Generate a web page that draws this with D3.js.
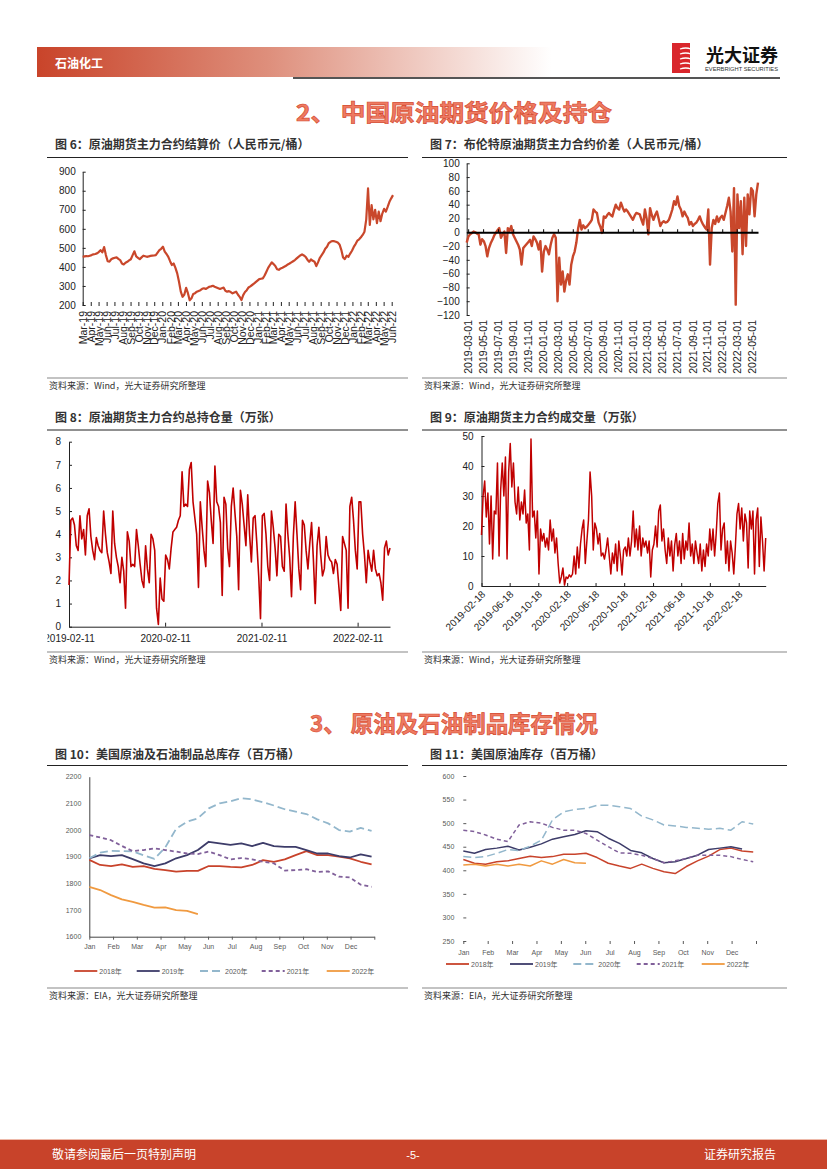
<!DOCTYPE html>
<meta charset="utf-8">
<head>
<title>石油化工：中国原油期货价格及持仓、原油及石油制品库存</title>
<script src="https://d3js.org/d3.v7.min.js"></script>
<style>
  body { margin: 0; background: #fff; }
  svg { display: block; }
</style>
</head>
<body>
<svg width="827" height="1169"></svg>
<script>

// ---------- data ----------

// 图6 原油期货主力合约结算价（元/桶），约每周一个读数
var price6Start = "2019-03-01", price6End = "2022-06-06";
var price6 = [
  453, 455, 457, 456, 459, 462, 466, 468, 471, 478,
  488, 476, 504, 462, 430, 428, 440, 445, 448, 450,
  442, 436, 418, 413, 422, 427, 434, 440, 462, 482,
  455, 448, 441, 450, 459, 456, 453, 455, 458, 459,
  460, 462, 475, 488, 495, 506, 480, 468, 453, 430,
  410, 418, 395, 366, 322, 270, 243, 255, 290, 262,
  225, 235, 258, 262, 270, 274, 278, 285, 288, 284,
  290, 296, 298, 301, 296, 292, 288, 284, 288, 291,
  275, 270, 273, 268, 261, 266, 270, 255, 243, 226,
  252, 268, 278, 292, 298, 305, 312, 320, 328, 336,
  338, 340, 355, 375, 395, 410, 424, 415, 405, 388,
  385, 392, 396, 401, 406, 413, 418, 424, 430, 436,
  445, 453, 460, 466, 460, 453, 438, 427, 440, 432,
  427, 404, 425, 448, 462, 476, 495, 506, 525, 532,
  536, 535, 532, 528, 518, 490, 450, 441, 459, 453,
  470, 485, 505, 520, 538, 545, 556, 568, 585, 650,
  812, 620, 725, 650, 700, 630, 690, 640, 680, 705,
  690, 715, 742, 760, 777
];
var ticks6 = [200, 300, 400, 500, 600, 700, 800, 900];

// 图7 布伦特原油期货主力合约价差（元/桶）
var spread7Start = "2019-02-23", spread7End = "2022-05-27";
var spread7 = [
  -15, -6, -3, -1, 1, 0, -2, -3, -18, -10,
  -13, -20, -35, -23, -16, -11, -5, -1, 3, 6,
  -8, -3, 1, -30, 6, 2, 9, -3, -8, -13,
  -18, -25, -47, -23, -20, -17, -14, -11, -20, -6,
  -10, -15, -25, -13, -57, -28, -20, -25, -32, -18,
  -8, -3, -8, -100, -37, -76, -57, -86, -70, -61,
  -76, -47, -35, -28, -15, 5, 18, 4, 10, 6,
  8, 11, 14, 18, 33, 30, 28, 14, 8, -1,
  23, 21, 25, 28, 25, 23, 32, 40, 35, 33,
  43, 36, 30, 33, 30, 26, 22, 18, 24, 28,
  27, 26, 18, 11, 33, 20, -3, 35, 25, 18,
  25, 30, 20, 9, 14, 16, 14, 15, 18, 25,
  33, 45, 40, 52, 38, 33, 23, 30, 25, 21,
  11, 15, 9, 12, 14, 18, 23, 16, 11, 7,
  4, 33, -47, 6, 18, 12, 23, 15, 21, 24,
  18, 28, 38, 50, 30, -28, 64, -105, 55, 6,
  45, -32, 50, -20, 55, 26, 64, 60, 23, 55,
  72
];
var ticks7 = [-120, -100, -80, -60, -40, -20, 0, 20, 40, 60, 80, 100];

// 图8 原油期货主力合约总持仓量（万张）
var oi8Start = "2019-02-11", oi8End = "2022-06-14";
var oi8 = [
  1.8, 4.6, 4.7, 4.4, 3.5, 3.3, 4.8, 3.8, 4.2, 3.1,
  4.8, 5.1, 3.9, 3.3, 2.9, 3.85, 3.5, 3.3, 3.2, 5.0,
  4.0, 3.2, 2.8, 2.3, 5.0, 3.6, 3.0, 2.6, 1.9, 3.0,
  2.4, 0.8, 4.1, 3.7, 2.6, 2.7, 2.6, 4.2, 3.5, 2.7,
  2.0, 1.7, 3.5, 2.5, 1.9, 4.0, 3.8, 3.3, 0.8, 0.1,
  2.1, 1.2, 1.1, 3.1, 2.9, 2.5, 3.4, 4.1, 4.2, 4.3,
  4.6, 4.8, 6.7, 5.2, 5.3, 5.2, 6.8, 7.1, 5.4, 4.7,
  4.0, 1.7, 5.4, 4.3, 3.3, 2.6, 6.3, 5.8, 4.6, 3.6,
  6.95, 5.4, 5.2, 4.5, 1.35, 5.6, 5.3, 3.4, 2.6, 5.2,
  6.0, 4.9, 3.9, 1.6, 5.9, 5.3, 4.4, 3.5, 5.7, 4.0,
  2.8, 4.7, 4.8, 3.6, 2.2, 0.35, 4.8, 4.9, 4.0, 2.6,
  2.0, 5.0, 4.3, 3.4, 2.2, 4.0, 3.9, 2.6, 2.4, 5.3,
  4.0, 3.0, 1.3, 3.9, 5.4, 4.0, 2.5, 1.6, 4.6, 4.4,
  3.3, 2.5, 3.6, 4.5, 2.9, 1.0, 3.5, 4.3, 3.1, 2.2,
  2.5, 3.9, 3.1, 2.9, 2.8, 2.3, 2.9, 2.7, 1.7, 0.7,
  3.9, 3.6, 3.3, 0.8, 5.2, 5.6, 4.6, 3.3, 2.5, 5.4,
  5.4, 4.0, 3.1, 1.9, 3.3, 2.8, 2.4, 3.3, 2.5, 2.2,
  2.3, 1.9, 1.15, 3.4, 3.7, 3.1, 3.4
];
var ticks8 = [0, 1, 2, 3, 4, 5, 6, 7, 8];
var dates8 = ["2019-02-11", "2020-02-11", "2021-02-11", "2022-02-11"];

// 图9 原油期货主力合约成交量（万张）
var vol9Start = "2019-02-18", vol9End = "2022-06-13";
var vol9 = [
  17, 30, 35, 23, 31, 14, 30, 9, 25, 24,
  41, 10, 32, 41, 30, 43, 9, 38, 47.5, 33, 41,
  28, 24, 33, 22, 28, 24, 32, 21, 24, 12,
  49, 23, 25, 16, 25, 4, 19, 15, 17.5, 13,
  16, 12, 22, 15, 19, 11, 16, 7.5, 1, 3, 6,
  0.3, 3, 2.5, 3.7, 3, 4, 10, 4, 13, 6,
  14, 19, 22, 7.5, 15, 22, 38, 30, 12, 21, 19,
  14, 17.5, 10, 11, 9, 12, 16, 10, 4, 11,
  7.5, 14, 5, 15, 10, 3.7, 12, 13, 10, 16,
  10, 15, 25, 13, 19, 12, 20, 10, 16, 13,
  15, 11, 15, 3, 12, 14, 20, 13, 25, 27,
  15, 19, 12, 7.5, 16, 10, 15, 5, 13.7, 17.5,
  10, 15, 7.5, 17.5, 9, 15, 12, 21, 10, 14,
  7.5, 15, 11, 7.5, 14, 5, 12, 6.5, 14, 10,
  19, 12, 19, 10, 17.5, 27.5, 31, 12, 19, 21, 7.5,
  15, 5, 15, 11, 4, 13, 24, 27.5, 19, 26,
  15, 24, 21, 6, 25, 19, 25, 4, 22, 26,
  6.5, 23, 15, 5, 16
];
var ticks9 = [0, 10, 20, 30, 40, 50];
var dates9 = ["2019-02-18", "2019-06-18", "2019-10-18", "2020-02-18", "2020-06-18",
              "2020-10-18", "2021-02-18", "2021-06-18", "2021-10-18", "2022-02-18"];

// 年内周序列（每两周一个读数，从第0周起）
var months = ["Jan", "Feb", "Mar", "Apr", "May", "Jun", "Jul", "Aug", "Sep", "Oct", "Nov", "Dec"];
var years = ["2018年", "2019年", "2020年", "2021年", "2022年"];

// 图10 美国原油及石油制品总库存（百万桶）
var total2018 = [1888, 1869, 1865, 1871, 1862, 1865, 1854, 1850, 1844, 1847, 1847, 1865, 1865, 1862,
                 1860, 1869, 1887, 1881, 1890, 1906, 1921, 1906, 1906, 1900, 1894, 1881, 1871];
var total2019 = [1894, 1906, 1902, 1906, 1891, 1875, 1865, 1875, 1894, 1906, 1925, 1956, 1950, 1944,
                 1950, 1940, 1952, 1940, 1937, 1937, 1925, 1912, 1912, 1902, 1897, 1909, 1900];
var total2020 = [1894, 1915, 1922, 1921, 1920, 1905, 1892, 1935, 2005, 2031, 2044, 2081, 2100, 2108,
                 2119, 2115, 2104, 2092, 2078, 2069, 2060, 2040, 2025, 2000, 1994, 2008, 1997];
var total2021 = [1981, 1972, 1962, 1940, 1921, 1925, 1931, 1925, 1919, 1912, 1910, 1919, 1906, 1890,
                 1895, 1890, 1881, 1875, 1848, 1850, 1853, 1843, 1845, 1825, 1822, 1795, 1787];
var total2022 = [1787, 1775, 1756, 1740, 1731, 1719, 1709, 1710, 1700, 1697, 1685];
var ticks10 = [1600, 1700, 1800, 1900, 2000, 2100, 2200];

// 图11 美国原油库存（百万桶）
var crude2018 = [423, 415, 413, 418, 420, 425, 430, 427, 429, 434, 434, 436, 427, 415,
                 409, 404, 413, 404, 397, 393, 408, 420, 430, 444, 447, 441, 439];
var crude2019 = [441, 436, 444, 447, 451, 443, 449, 456, 466, 471, 476, 484, 482, 468,
                 457, 442, 437, 425, 416, 418, 425, 432, 444, 447, 450, 445];
var crude2020 = [429, 427, 429, 436, 444, 442, 451, 464, 507, 524, 529, 531, 538, 538,
                 535, 531, 515, 507, 496, 494, 491, 489, 487, 489, 485, 503, 498];
var crude2021 = [485, 482, 475, 466, 461, 496, 503, 500, 491, 485, 485, 478, 464, 450,
                 437, 436, 432, 425, 416, 420, 425, 432, 432, 432, 429, 423, 418];
var crude2022 = [411, 413, 409, 413, 409, 413, 409, 420, 413, 423, 416, 415];
var ticks11 = [250, 300, 350, 400, 450, 500, 550, 600];

// ---------- drawing ----------

var svg = d3.select("svg");
var FONT = "'Liberation Sans', Arial, 'Noto Sans CJK SC', sans-serif";
var CJK = "'Noto Sans CJK SC', 'Liberation Sans', sans-serif";
var RED = "#c9472b", DARKRED = "#c00000";
var yearColors = ["#c8432b", "#3d3c69", "#93b7cc", "#80609a", "#f09a40"];
var yearDash = [null, null, "8,4", "4,3", null];
var parse = d3.timeParse("%Y-%m-%d");

// spread readings evenly between two dates
function spread(values, start, end) {
  var t0 = parse(start).getTime(), t1 = parse(end).getTime();
  return values.map(function (v, i) {
    return { date: new Date(t0 + (t1 - t0) * i / (values.length - 1)), value: v };
  });
}

function styleAxis(g, size, color) {
  g.attr("font-family", FONT).attr("font-size", size);
  g.selectAll("text").attr("fill", color);
  g.selectAll("line").attr("stroke", color);
  g.select(".domain").attr("stroke", color);
}

function frame(x0, x1, titleY, title, ruleY, srcY, source) {
  svg.append("text").attr("x", x0 + 8).attr("y", titleY)
    .attr("font-family", CJK).attr("font-weight", "bold").attr("font-size", 12)
    .attr("fill", "#333").text(title);
  svg.append("line").attr("x1", x0).attr("x2", x1).attr("y1", ruleY).attr("y2", ruleY)
    .attr("stroke", "#222").attr("stroke-width", 1);
  svg.append("line").attr("x1", x0).attr("x2", x1).attr("y1", srcY - 8).attr("y2", srcY - 8)
    .attr("stroke", "#888").attr("stroke-width", 1.2);
  svg.append("text").attr("x", x0 + 2).attr("y", srcY + 3)
    .attr("font-family", CJK).attr("font-size", 9).attr("fill", "#333").text(source);
}

// header
var defs = svg.append("defs");
var grad = defs.append("linearGradient").attr("id", "hdr").attr("x1", 0).attr("x2", 1);
grad.append("stop").attr("offset", 0).attr("stop-color", "#c9442a");
grad.append("stop").attr("offset", 0.45).attr("stop-color", "#de8f7c");
grad.append("stop").attr("offset", 1).attr("stop-color", "#ffffff");
svg.append("rect").attr("x", 37).attr("y", 47).attr("width", 515).attr("height", 30).attr("fill", "url(#hdr)");
svg.append("text").attr("x", 55).attr("y", 68).attr("font-family", CJK).attr("font-weight", "bold")
  .attr("font-size", 12).attr("fill", "#fff").text("石油化工");
svg.append("line").attr("x1", 293).attr("x2", 780).attr("y1", 78).attr("y2", 78)
  .attr("stroke", "#555").attr("stroke-width", 2);

// logo
svg.append("rect").attr("x", 672).attr("y", 43).attr("width", 18).attr("height", 30).attr("fill", "#d9262c");
[49, 54, 59, 64, 69].forEach(function (y) {
  svg.append("path").attr("d", "M680," + y + " Q686," + (y - 2) + " 691," + y)
    .attr("stroke", "#fff").attr("stroke-width", 1.3).attr("fill", "none");
});
svg.append("text").attr("x", 706).attr("y", 62).attr("font-family", CJK).attr("font-weight", "bold")
  .attr("font-size", 18).attr("fill", "#111").text("光大证券");
svg.append("text").attr("x", 705).attr("y", 71).attr("font-family", FONT).attr("font-size", 5)
  .attr("textLength", 73).attr("lengthAdjust", "spacingAndGlyphs").attr("fill", "#333")
  .text("EVERBRIGHT SECURITIES");

// section headings
function heading(x, y, w, t) {
  svg.append("text").attr("x", x).attr("y", y).attr("font-family", CJK).attr("font-weight", "bold")
    .attr("font-size", 23).attr("textLength", w).attr("lengthAdjust", "spacingAndGlyphs")
    .attr("fill", "#ee7a62").attr("stroke", "#d54a30").attr("stroke-width", 0.7).text(t);
}
heading(296, 121, 316, "2、 中国原油期货价格及持仓");
heading(310, 732, 288, "3、 原油及石油制品库存情况");

// ----- 图6 -----
frame(47, 408, 149, "图 6：原油期货主力合约结算价（人民币元/桶）", 157.5, 386, "资料来源：Wind，光大证券研究所整理");
var x6 = d3.scaleTime().domain([parse("2019-03-01"), parse("2022-06-01")]).range([82.7, 391.7]);
var y6 = d3.scaleLinear().domain([200, 900]).range([305, 171.7]);
var gy6 = svg.append("g").attr("transform", "translate(82.7,0)")
  .call(d3.axisLeft(y6).tickValues(ticks6).tickSizeInner(-3).tickSizeOuter(0).tickPadding(7));
styleAxis(gy6, 10, "#222");
var gx6 = svg.append("g").attr("transform", "translate(0,302)")
  .call(d3.axisBottom(x6).tickValues(d3.timeMonth.range(parse("2019-03-01"), parse("2022-06-02")))
    .tickFormat(d3.timeFormat("%b-%y")).tickSize(4));
gx6.select(".domain").remove();
styleAxis(gx6, 10.5, "#222");
gx6.selectAll("text").attr("transform", "rotate(-90)").attr("text-anchor", "end")
  .attr("x", -9).attr("y", 0).attr("dy", "0.35em");
svg.append("path").datum(spread(price6, price6Start, price6End))
  .attr("d", d3.line().x(function (d) { return x6(d.date); }).y(function (d) { return y6(d.value); }))
  .attr("fill", "none").attr("stroke", RED).attr("stroke-width", 2.2).attr("stroke-linejoin", "round");

// ----- 图7 -----
frame(422, 787, 149, "图 7：布伦特原油期货主力合约价差（人民币元/桶）", 157.5, 386, "资料来源：Wind，光大证券研究所整理");
var x7 = d3.scaleTime().domain([parse(spread7Start), parse(spread7End)]).range([466.7, 758]);
var y7 = d3.scaleLinear().domain([-120, 100]).range([315, 163.3]);
var gy7 = svg.append("g").attr("transform", "translate(466.7,0)")
  .call(d3.axisLeft(y7).tickValues(ticks7).tickSizeInner(-3).tickSizeOuter(0).tickPadding(7));
styleAxis(gy7, 10, "#222");
var ticksDates7 = d3.timeMonth.every(2).range(parse("2019-03-01"), parse("2022-05-02"));
svg.append("path").datum(spread(spread7, spread7Start, spread7End))
  .attr("d", d3.line().x(function (d) { return x7(d.date); }).y(function (d) { return y7(d.value); }))
  .attr("fill", "none").attr("stroke", RED).attr("stroke-width", 2.4).attr("stroke-linejoin", "round");
var gz7 = svg.append("g").attr("transform", "translate(0," + y7(0) + ")")
  .call(d3.axisBottom(x7).tickValues(ticksDates7).tickFormat("").tickSize(-3).tickSizeOuter(0));
styleAxis(gz7, 10, "#000");
gz7.select(".domain").attr("stroke-width", 2.2);
var gx7 = svg.append("g").attr("transform", "translate(0,315)")
  .call(d3.axisBottom(x7).tickValues(ticksDates7).tickFormat(d3.timeFormat("%Y-%m-%d")).tickSize(0));
gx7.select(".domain").remove();
styleAxis(gx7, 10.5, "#222");
gx7.selectAll("text").attr("transform", "rotate(-90)").attr("text-anchor", "end")
  .attr("x", -5).attr("y", 0).attr("dy", "0.35em");

// ----- 图8 -----
frame(47, 408, 422, "图 8：原油期货主力合约总持仓量（万张）", 430, 660, "资料来源：Wind，光大证券研究所整理");
var x8 = d3.scaleTime().domain([parse(oi8Start), parse(oi8End)]).range([69, 390]);
var y8 = d3.scaleLinear().domain([0, 8]).range([626.7, 441.7]);
var gy8 = svg.append("g").attr("transform", "translate(69,0)")
  .call(d3.axisLeft(y8).tickValues(ticks8).tickSizeInner(-3).tickSizeOuter(0).tickPadding(8));
styleAxis(gy8, 10, "#222");
// the first date label is cut by the panel's left edge, as in the source
defs.append("clipPath").attr("id", "clip8").append("rect")
  .attr("x", 47.5).attr("y", -20).attr("width", 370).attr("height", 40);
var gx8 = svg.append("g").attr("transform", "translate(0,626.7)").attr("clip-path", "url(#clip8)")
  .call(d3.axisBottom(x8).tickValues(dates8.map(parse)).tickFormat(d3.timeFormat("%Y-%m-%d"))
    .tickSizeInner(-4).tickSizeOuter(0).tickPadding(8));
styleAxis(gx8, 10, "#222");
svg.append("path").datum(spread(oi8, oi8Start, oi8End))
  .attr("d", d3.line().x(function (d) { return x8(d.date); }).y(function (d) { return y8(d.value); }))
  .attr("fill", "none").attr("stroke", DARKRED).attr("stroke-width", 1.6).attr("stroke-linejoin", "round");

// ----- 图9 -----
frame(422, 787, 422, "图 9：原油期货主力合约成交量（万张）", 430, 660, "资料来源：Wind，光大证券研究所整理");
var x9 = d3.scaleTime().domain([parse(vol9Start), parse(vol9End)]).range([481.5, 765.7]);
var y9 = d3.scaleLinear().domain([0, 50]).range([586, 436]);
var gy9 = svg.append("g").attr("transform", "translate(481.5,0)")
  .call(d3.axisLeft(y9).tickValues(ticks9).tickSizeInner(-3).tickSizeOuter(0).tickPadding(8));
styleAxis(gy9, 10, "#222");
var gx9 = svg.append("g").attr("transform", "translate(0,586)")
  .call(d3.axisBottom(x9).tickValues(dates9.map(parse)).tickFormat(d3.timeFormat("%Y-%m-%d"))
    .tickSizeInner(-3).tickSizeOuter(0));
styleAxis(gx9, 10, "#222");
gx9.selectAll("text").attr("x", 0).attr("y", 0).attr("dy", 0)
  .attr("transform", "translate(4,9) rotate(-45)").attr("text-anchor", "end");
svg.append("path").datum(spread(vol9, vol9Start, vol9End))
  .attr("d", d3.line().x(function (d) { return x9(d.date); }).y(function (d) { return y9(d.value); }))
  .attr("fill", "none").attr("stroke", DARKRED).attr("stroke-width", 1.5).attr("stroke-linejoin", "round");

// ----- 年内库存图 -----
function seasonal(opts) {
  var x = d3.scaleLinear().domain([0, 52.5]).range(opts.xr);
  var y = d3.scaleLinear().domain(d3.extent(opts.ticks)).range(opts.yr);
  var monthWeeks = months.map(function (m, i) { return i * 52.5 / 12; });
  var gy = svg.append("g").attr("transform", "translate(" + opts.xr[0] + ",0)")
    .call(d3.axisLeft(y).tickValues(opts.ticks).tickFormat(d3.format("d"))
      .tickSizeInner(opts.yTick).tickSizeOuter(0).tickPadding(opts.yPad));
  styleAxis(gy, 7, "#595959");
  var gx = svg.append("g").attr("transform", "translate(0," + opts.yr[0] + ")")
    .call(d3.axisBottom(x).tickValues(monthWeeks.concat([52.5]))
      .tickFormat(function (d, i) { return months[i] || ""; })
      .tickSizeInner(3).tickSizeOuter(0).tickPadding(opts.xPad));
  styleAxis(gx, 7, "#595959");
  if (!opts.axisLines) { gy.select(".domain").remove(); gx.select(".domain").remove(); }
  else { gy.select(".domain").attr("stroke", "#444"); gx.select(".domain").attr("stroke", "#444"); }

  var line = d3.line().x(function (d, i) { return x(i * 2); }).y(function (d) { return y(d); });
  opts.series.forEach(function (s, k) {
    svg.append("path").datum(s).attr("d", line).attr("fill", "none")
      .attr("stroke", yearColors[k]).attr("stroke-width", opts.width)
      .attr("stroke-dasharray", yearDash[k]).attr("stroke-linejoin", "round");
  });
  years.forEach(function (t, k) {
    var lx = opts.legendX[k];
    svg.append("line").attr("x1", lx).attr("x2", lx + 23).attr("y1", opts.legendY).attr("y2", opts.legendY)
      .attr("stroke", yearColors[k]).attr("stroke-width", 1.8).attr("stroke-dasharray", yearDash[k]);
    svg.append("text").attr("x", lx + 25).attr("y", opts.legendY + 2.5)
      .attr("font-family", FONT).attr("font-size", 7).attr("fill", "#595959").text(t);
  });
}

frame(47, 408, 759, "图 10：美国原油及石油制品总库存（百万桶）", 765.5, 996, "资料来源：EIA，光大证券研究所整理");
seasonal({
  xr: [89.3, 374.3], yr: [936.7, 776.7], ticks: ticks10, axisLines: true,
  yTick: 0, yPad: 8, xPad: 4, width: 1.8,
  series: [total2018, total2019, total2020, total2021, total2022],
  legendX: [74.3, 136.7, 200, 261.7, 326.7], legendY: 971
});

frame(422, 787, 759, "图 11：美国原油库存（百万桶）", 765.5, 996, "资料来源：EIA，光大证券研究所整理");
seasonal({
  xr: [463.3, 756], yr: [941, 776], ticks: ticks11, axisLines: false,
  yTick: -3, yPad: 9, xPad: 6, width: 1.5,
  series: [crude2018, crude2019, crude2020, crude2021, crude2022],
  legendX: [446, 510, 573.3, 636.7, 701.7], legendY: 964
});

// footer
svg.append("rect").attr("x", 0).attr("y", 1140).attr("width", 827).attr("height", 29).attr("fill", "#c8432a");
svg.append("line").attr("x1", 0).attr("x2", 827).attr("y1", 1139.5).attr("y2", 1139.5)
  .attr("stroke", "#eeb9a9").attr("stroke-width", 1);
svg.append("text").attr("x", 52).attr("y", 1159).attr("font-family", CJK).attr("font-size", 12)
  .attr("fill", "#fff").text("敬请参阅最后一页特别声明");
svg.append("text").attr("x", 413).attr("y", 1159).attr("text-anchor", "middle").attr("font-family", FONT)
  .attr("font-size", 11).attr("fill", "#fff").text("-5-");
svg.append("text").attr("x", 776).attr("y", 1159).attr("text-anchor", "end").attr("font-family", CJK)
  .attr("font-size", 12).attr("fill", "#fff").text("证券研究报告");

</script>
</body>
</html>
